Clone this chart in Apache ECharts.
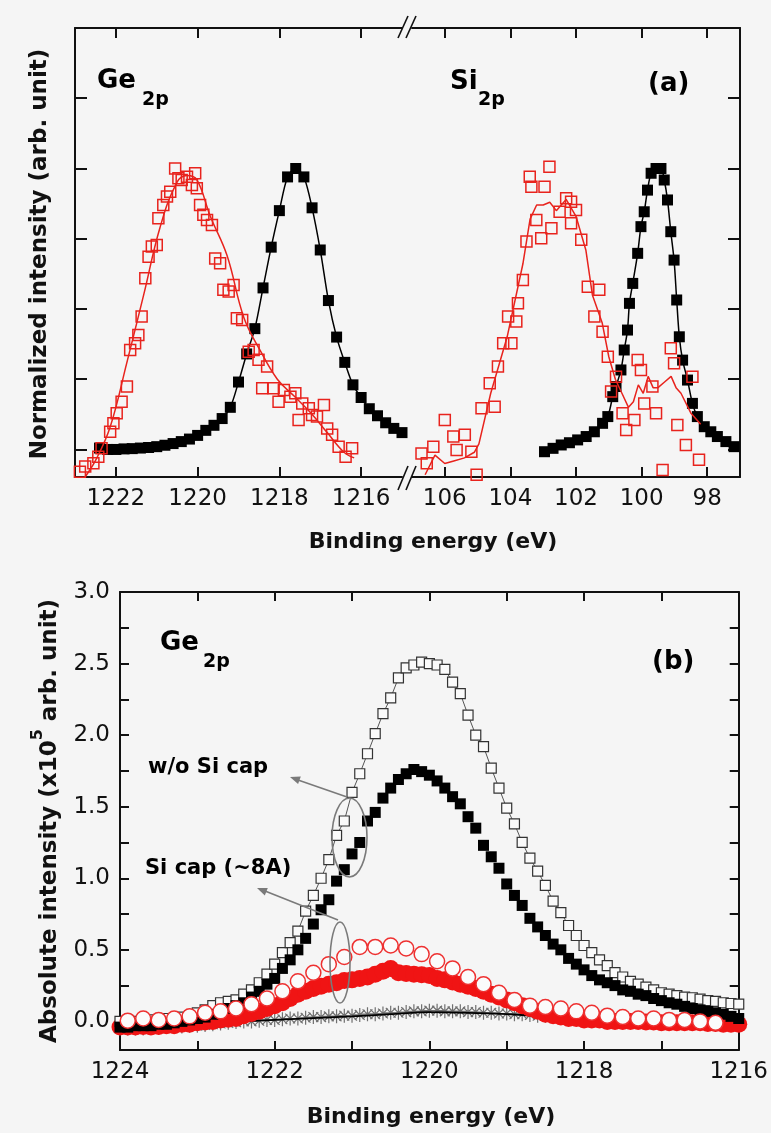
<!DOCTYPE html>
<html><head><meta charset="utf-8">
<script src="https://cdn.jsdelivr.net/npm/echarts@6/dist/echarts.min.js"></script>
<style>html,body{margin:0;padding:0;background:#f5f5f5}#c{width:771px;height:1133px}</style>
</head><body><div id="c"></div><script>
// ---------------- Panel (a) data : normalized intensity ----------------
// Ge 2p, black filled squares (0.2 eV steps from 1222.4 down to 1215.0)
const geBlackStart = 1222.4, geBlackStep = 0.2;
const geBlackV = [0.005,0.0,0.0,0.002,0.003,0.005,0.007,0.01,0.015,0.021,0.028,0.037,0.05,0.068,0.086,0.11,0.15,0.24,0.34,0.43,0.575,0.72,0.85,0.97,1.0,0.97,0.86,0.71,0.53,0.40,0.31,0.23,0.185,0.145,0.12,0.095,0.075,0.06];
// Ge 2p, red open squares
const geRedE = [1222.88,1222.75,1222.55,1222.43,1222.35,1222.14,1222.06,1221.98,1221.86,1221.73,1221.65,1221.53,1221.45,1221.37,1221.28,1221.20,1221.12,1221.00,1220.96,1220.84,1220.75,1220.67,1220.55,1220.47,1220.39,1220.26,1220.14,1220.06,1220.02,1219.94,1219.86,1219.77,1219.65,1219.57,1219.45,1219.37,1219.24,1219.12,1219.04,1218.91,1218.75,1218.63,1218.51,1218.42,1218.30,1218.14,1218.02,1217.89,1217.73,1217.61,1217.53,1217.44,1217.28,1217.20,1217.08,1216.91,1216.83,1216.71,1216.55,1216.38,1216.22];
const geRedV = [-0.079,-0.061,-0.049,-0.026,0.004,0.063,0.093,0.129,0.170,0.224,0.354,0.378,0.407,0.473,0.609,0.686,0.722,0.728,0.823,0.870,0.900,0.917,1.0,0.965,0.959,0.971,0.941,0.983,0.930,0.870,0.835,0.817,0.799,0.680,0.663,0.568,0.562,0.585,0.467,0.461,0.348,0.354,0.319,0.218,0.295,0.218,0.170,0.212,0.188,0.200,0.105,0.164,0.147,0.123,0.117,0.158,0.075,0.052,0.010,-0.026,0.004];
// Ge 2p, red fit line
const geFitE = [1222.95,1222.75,1222.5,1222.14,1221.73,1221.32,1220.92,1220.51,1220.26,1220.02,1219.69,1219.28,1218.87,1218.46,1218.05,1217.64,1217.23,1216.83,1216.42,1216.17];
const geFitV = [-0.14,-0.097,-0.04,0.08,0.31,0.55,0.79,0.95,0.975,0.96,0.83,0.69,0.47,0.35,0.25,0.19,0.13,0.06,-0.01,-0.03];
// Si 2p, black filled squares
const siBlackE = [102.96,102.70,102.45,102.20,101.95,101.69,101.44,101.19,101.03,100.88,100.78,100.63,100.53,100.43,100.37,100.27,100.12,100.02,99.92,99.82,99.71,99.56,99.41,99.31,99.21,99.11,99.01,98.93,98.85,98.75,98.60,98.45,98.30,98.09,97.89,97.69,97.43,97.18];
const siBlackV = [-0.008,0.004,0.016,0.024,0.034,0.046,0.063,0.093,0.117,0.188,0.224,0.283,0.354,0.425,0.52,0.591,0.698,0.793,0.846,0.923,0.983,1.0,1.0,0.959,0.888,0.775,0.674,0.532,0.401,0.318,0.247,0.164,0.117,0.081,0.063,0.046,0.028,0.01];
// Si 2p, red open squares
const siRedE = [106.71,106.55,106.35,106.00,105.74,105.64,105.39,105.19,105.03,104.88,104.63,104.48,104.38,104.22,104.07,103.97,103.82,103.77,103.62,103.51,103.41,103.36,103.21,103.06,102.96,102.81,102.75,102.50,102.30,102.15,102.15,102.00,101.84,101.64,101.44,101.29,101.19,101.03,100.93,100.78,100.58,100.47,100.22,100.12,100.02,99.92,99.67,99.56,99.36,99.11,99.01,98.91,98.65,98.45,98.25];
const siRedV = [-0.014,-0.049,0.01,0.105,0.046,-0.002,0.052,-0.008,-0.09,0.147,0.236,0.152,0.295,0.378,0.473,0.378,0.455,0.52,0.603,0.74,0.971,0.935,0.817,0.752,0.935,1.006,0.787,0.846,0.894,0.882,0.805,0.852,0.746,0.579,0.473,0.568,0.419,0.330,0.206,0.259,0.129,0.069,0.105,0.318,0.283,0.164,0.224,0.129,-0.073,0.36,0.307,0.087,0.016,0.259,-0.037];
// Si 2p, red fit line
const siFitE = [106.6,106.3,106.0,105.7,105.4,105.1,104.96,104.6,104.1,103.62,103.4,103.2,103.0,102.8,102.6,102.45,102.3,102.0,101.7,101.5,101.2,101.0,100.8,100.6,100.4,100.25,100.1,99.95,99.8,99.65,99.5,99.3,99.1,98.95,98.8,98.5,98.2];
const siFitV = [-0.09,-0.02,-0.05,-0.04,-0.03,-0.01,0.02,0.2,0.4,0.66,0.82,0.87,0.87,0.88,0.85,0.87,0.89,0.83,0.71,0.55,0.45,0.33,0.25,0.2,0.15,0.17,0.23,0.2,0.26,0.22,0.22,0.24,0.26,0.22,0.2,0.13,0.09];

// ---------------- Panel (b) data : absolute intensity (x1e5) ----------------
// 0.1 eV steps from 1224.0 down to 1216.0
const bStart = 1224.0, bStep = 0.1;
const bOpenSq = [0.00,0.00,0.00,0.01,0.01,0.01,0.02,0.02,0.03,0.04,
 0.06,0.08,0.11,0.13,0.14,0.15,0.19,0.22,0.27,0.33,
 0.40,0.48,0.55,0.63,0.77,0.88,1.00,1.13,1.30,1.40,
 1.60,1.73,1.87,2.01,2.15,2.26,2.40,2.47,2.49,2.51,
 2.50,2.49,2.46,2.37,2.29,2.14,2.00,1.92,1.77,1.63,
 1.49,1.38,1.25,1.14,1.05,0.95,0.84,0.76,0.67,0.60,
 0.53,0.48,0.43,0.39,0.34,0.31,0.28,0.26,0.24,0.22,
 0.20,0.19,0.18,0.17,0.165,0.155,0.145,0.14,0.13,0.125,
 0.12];
const bFilledSq = [-0.04,-0.04,-0.03,-0.03,-0.03,-0.02,-0.02,-0.01,0.00,0.01,
 0.02,0.03,0.05,0.07,0.09,0.11,0.13,0.17,0.21,0.26,
 0.30,0.37,0.43,0.50,0.58,0.68,0.78,0.85,0.98,1.06,
 1.17,1.25,1.40,1.46,1.56,1.63,1.69,1.73,1.76,1.745,
 1.72,1.68,1.63,1.57,1.52,1.43,1.35,1.23,1.15,1.07,
 0.96,0.88,0.81,0.72,0.66,0.60,0.54,0.50,0.44,0.40,
 0.36,0.32,0.29,0.27,0.25,0.22,0.21,0.19,0.18,0.16,
 0.145,0.13,0.12,0.105,0.09,0.08,0.07,0.06,0.05,0.035,
 0.02];
const bRedFilled = [-0.04,-0.04,-0.04,-0.035,-0.04,-0.035,-0.03,-0.03,-0.02,-0.02,
 -0.01,-0.005,0.00,0.01,0.015,0.02,0.04,0.055,0.07,0.09,
 0.11,0.13,0.16,0.19,0.21,0.23,0.245,0.26,0.27,0.285,
 0.29,0.30,0.31,0.33,0.35,0.37,0.34,0.335,0.33,0.325,
 0.32,0.30,0.29,0.275,0.26,0.245,0.23,0.21,0.19,0.17,
 0.15,0.13,0.11,0.09,0.07,0.05,0.04,0.03,0.02,0.02,
 0.01,0.01,0.01,0.0,0.0,0.0,0.0,0.0,-0.005,-0.005,
 -0.01,-0.01,-0.01,-0.01,-0.01,-0.01,-0.015,-0.015,-0.02,-0.02,
 -0.02];
const bCross = [-0.05,-0.05,-0.05,-0.05,-0.045,-0.045,-0.04,-0.04,-0.035,-0.03,
 -0.03,-0.025,-0.02,-0.015,-0.01,-0.005,0.0,0.0,0.005,0.01,
 0.01,0.015,0.02,0.02,0.025,0.03,0.03,0.035,0.035,0.04,
 0.04,0.045,0.05,0.05,0.055,0.06,0.06,0.065,0.07,0.07,
 0.075,0.075,0.07,0.07,0.07,0.065,0.065,0.06,0.06,0.055,
 0.055,0.05,0.05,0.045,0.04,0.04,0.035,0.03,0.03,0.025,
 0.02,0.02,0.015,0.01,0.01,0.005,0.005,0.0,0.0,0.0,
 -0.005,-0.005,-0.01,-0.01,-0.01,-0.015,-0.015,-0.02,-0.02,-0.02,
 -0.02];
// red open circles, 0.2 eV steps from 1223.9 to 1216.3
const bCircStart = 1223.9, bCircStep = 0.2;
const bRedCirc = [0.005,0.02,0.01,0.02,0.035,0.06,0.07,0.09,0.12,0.16,0.21,0.28,0.34,0.40,0.45,0.52,0.52,0.53,0.51,0.47,0.42,0.37,0.31,0.26,0.20,0.15,0.11,0.10,0.09,0.07,0.06,0.04,0.03,0.02,0.02,0.01,0.01,0.00,-0.01];
// thin black line near zero
const bLineE = [1224,1223,1222.4,1222,1221,1220.5,1220,1219.5,1219,1218.5,1218,1217.5,1217,1216.5,1216];
const bLineV = [-0.06,-0.04,0.0,0.01,0.035,0.05,0.065,0.06,0.05,0.035,0.02,0.005,-0.005,-0.015,-0.02];

// tick / label values
const geTicks = [1216,1218,1220,1222];
const siTicks = [98,100,102,104,106];
const aYTicks = [0,0.25,0.5,0.75,1.0,1.25];
const bXTicks = [1216,1217,1218,1219,1220,1221,1222,1223,1224];
const bXLabels = [1216,1218,1220,1222,1224];
const bYTicks = [0,0.25,0.5,0.75,1.0,1.25,1.5,1.75,2.0,2.25,2.5,2.75,3.0];
const bYLabels = [0,0.5,1.0,1.5,2.0,2.5,3.0];

// ---------------- helpers ----------------
const F = '"DejaVu Sans", sans-serif';
const INK = '#111';
const RED = '#e8231d';
const grid = (xs, ys) => xs.map((x, i) => [x, ys[i]]).filter(p => p[1] !== undefined);
const stepGrid = (start, step, ys) => ys.map((y, i) => [+(start - i * step).toFixed(2), y]);

function xAx(gi, min, max, pos, ticks, labels, tickLen) {
  return {
    type: 'value', gridIndex: gi, min, max, inverse: true, position: pos,
    axisLine: { onZero: false, lineStyle: { color: INK, width: 2 } },
    axisTick: { inside: true, length: tickLen, customValues: ticks, lineStyle: { color: INK, width: 2 } },
    axisLabel: labels ? { show: true, customValues: labels, fontFamily: F, fontSize: 23, color: INK, margin: 11, formatter: v => String(Math.round(v)) } : { show: false },
    splitLine: { show: false }
  };
}
function yAx(gi, min, max, pos, ticks, labels, tickLen, extra) {
  return Object.assign({
    type: 'value', gridIndex: gi, min, max, position: pos,
    axisLine: { show: true, onZero: false, lineStyle: { color: INK, width: 2 } },
    axisTick: { show: true, inside: true, length: tickLen, customValues: ticks, lineStyle: { color: INK, width: 2 } },
    axisLabel: labels ? { show: true, customValues: labels, fontFamily: F, fontSize: 23, color: INK, margin: 10, formatter: v => v.toFixed(1) } : { show: false },
    splitLine: { show: false }
  }, extra || {});
}
function txt(text, x, y, size, opt) {
  return Object.assign({
    type: 'text', x, y, z: 100,
    style: { text, font: 'bold ' + size + 'px ' + F, fill: '#000', verticalAlign: 'middle', align: 'left' }
  }, opt || {});
}
function ctxt(text, x, y, size, rot) {
  return { type: 'text', x, y, z: 100, rotation: rot || 0,
    style: { text, font: 'bold ' + size + 'px ' + F, fill: INK, align: 'center', verticalAlign: 'middle' } };
}
function ln(x1, y1, x2, y2, color, w) {
  return { type: 'line', z: 100, shape: { x1, y1, x2, y2 }, style: { stroke: color, lineWidth: w } };
}
function arrowHead(pts, color) {
  return { type: 'polygon', z: 100, shape: { points: pts }, style: { fill: color } };
}

const GRAY = '#7a7a7a';
const chart = echarts.init(document.getElementById('c'), null, { renderer: 'canvas' });
chart.setOption({
  backgroundColor: '#f5f5f5',
  animation: false,
  grid: [
    { left: 75, top: 28, width: 327, height: 449 },
    { left: 412, top: 28, width: 328, height: 449 },
    { left: 120, top: 592, width: 622, height: 458 }
  ],
  xAxis: [
    xAx(0, 1215, 1223, 'bottom', geTicks, geTicks, 10),
    xAx(0, 1215, 1223, 'top', geTicks, null, 10),
    xAx(1, 97, 107, 'bottom', siTicks, siTicks, 10),
    xAx(1, 97, 107, 'top', siTicks, null, 10),
    xAx(2, 1216, 1224, 'bottom', bXTicks, bXLabels, 9),
    xAx(2, 1216, 1224, 'top', bXTicks, null, 9)
  ],
  yAxis: [
    yAx(0, -0.098, 1.5, 'left', aYTicks, null, 12),
    yAx(1, -0.098, 1.5, 'right', aYTicks, null, 12),
    yAx(2, -0.2, 3.0, 'left', bYTicks, bYLabels, 9, {
      name: '{b|Absolute intensity (x10}{s|5}{b| arb. unit)}',
      nameLocation: 'middle', nameGap: 58,
      nameTextStyle: { rich: {
        b: { fontFamily: F, fontWeight: 'bold', fontSize: 23, color: INK, lineHeight: 32, verticalAlign: 'bottom' },
        s: { fontFamily: F, fontWeight: 'bold', fontSize: 16, color: INK, lineHeight: 32, verticalAlign: 'top' }
      } }
    }),
    yAx(2, -0.2, 3.0, 'right', bYTicks, null, 9)
  ],
  series: [
    // ---- panel (a) Ge
    { type: 'line', xAxisIndex: 0, yAxisIndex: 0, data: stepGrid(geBlackStart, geBlackStep, geBlackV), smooth: 0.3, showSymbol: false, lineStyle: { color: '#000', width: 1.5 }, z: 2 },
    { type: 'scatter', xAxisIndex: 0, yAxisIndex: 0, data: stepGrid(geBlackStart, geBlackStep, geBlackV), symbol: 'rect', symbolSize: 11, itemStyle: { color: '#000', opacity: 1 }, z: 3 },
    { type: 'line', xAxisIndex: 0, yAxisIndex: 0, data: grid(geFitE, geFitV), smooth: 0.4, showSymbol: false, lineStyle: { color: RED, width: 1.5 }, z: 4 },
    { type: 'scatter', xAxisIndex: 0, yAxisIndex: 0, data: grid(geRedE, geRedV), symbol: 'rect', symbolSize: 11, itemStyle: { color: 'rgba(0,0,0,0)', borderColor: RED, borderWidth: 1.5, opacity: 1 }, z: 5 },
    // ---- panel (a) Si
    { type: 'line', xAxisIndex: 2, yAxisIndex: 1, data: grid(siBlackE, siBlackV), smooth: 0.3, showSymbol: false, lineStyle: { color: '#000', width: 1.5 }, z: 2 },
    { type: 'scatter', xAxisIndex: 2, yAxisIndex: 1, data: grid(siBlackE, siBlackV), symbol: 'rect', symbolSize: 11, itemStyle: { color: '#000', opacity: 1 }, z: 3 },
    { type: 'line', xAxisIndex: 2, yAxisIndex: 1, data: grid(siFitE, siFitV), showSymbol: false, lineStyle: { color: RED, width: 1.5 }, z: 4 },
    { type: 'scatter', xAxisIndex: 2, yAxisIndex: 1, data: grid(siRedE, siRedV), symbol: 'rect', symbolSize: 11, itemStyle: { color: 'rgba(0,0,0,0)', borderColor: RED, borderWidth: 1.5, opacity: 1 }, z: 5 },
    // ---- panel (b)
    { type: 'scatter', xAxisIndex: 4, yAxisIndex: 2, data: stepGrid(bStart, bStep, bCross), symbol: 'path://M0,-10L0,10M-10,0L10,0M-7,-7L7,7M-7,7L7,-7', symbolSize: 14, itemStyle: { color: 'rgba(0,0,0,0)', borderColor: '#6f6f6f', borderWidth: 1.2, opacity: 1 }, z: 2 },
    { type: 'line', xAxisIndex: 4, yAxisIndex: 2, data: grid(bLineE, bLineV), smooth: 0.3, showSymbol: false, lineStyle: { color: '#000', width: 1.8 }, z: 3 },
    { type: 'scatter', xAxisIndex: 4, yAxisIndex: 2, data: stepGrid(bStart, bStep, bRedFilled), symbol: 'circle', symbolSize: 17, itemStyle: { color: '#f01414', opacity: 1 }, z: 4 },
    { type: 'line', xAxisIndex: 4, yAxisIndex: 2, data: stepGrid(bStart, bStep, bOpenSq), symbol: 'rect', symbolSize: 10, showSymbol: true, lineStyle: { color: '#555', width: 1 }, itemStyle: { color: '#fafafa', borderColor: '#333', borderWidth: 1.2, opacity: 1 }, z: 5 },
    { type: 'scatter', xAxisIndex: 4, yAxisIndex: 2, data: stepGrid(bStart, bStep, bFilledSq), symbol: 'rect', symbolSize: 11, itemStyle: { color: '#000', opacity: 1 }, z: 6 },
    { type: 'scatter', xAxisIndex: 4, yAxisIndex: 2, data: stepGrid(bCircStart, bCircStep, bRedCirc), symbol: 'circle', symbolSize: 15, itemStyle: { color: '#fbfbfb', borderColor: '#ee3030', borderWidth: 1.5, opacity: 1 }, z: 7 }
  ],
  graphic: [
    // axis titles
    ctxt('Binding energy (eV)', 433, 542, 22),
    ctxt('Normalized intensity (arb. unit)', 40, 254, 23, Math.PI / 2),
    ctxt('Binding energy (eV)', 431, 1117, 22),
    // panel labels
    txt('Ge', 97, 81, 26), txt('2p', 142, 100, 19),
    txt('Si', 450, 82, 26), txt('2p', 478, 100, 19),
    txt('(a)', 648, 84, 26),
    txt('Ge', 160, 643, 26), txt('2p', 203, 662, 19),
    txt('(b)', 652, 662, 26),
    txt('w/o Si cap', 148, 768, 21),
    txt('Si cap (~8A)', 145, 869, 21),
    // break marks
    ln(398, 38, 408, 16, INK, 1.6), ln(406, 38, 416, 16, INK, 1.6),
    ln(398, 490, 408, 466, INK, 1.6), ln(406, 490, 416, 466, INK, 1.6),
    // ellipses + arrows
    { type: 'ellipse', z: 100, shape: { cx: 349.5, cy: 837.5, rx: 17.5, ry: 39.5 }, style: { fill: 'rgba(0,0,0,0)', stroke: GRAY, lineWidth: 1.6 } },
    { type: 'ellipse', z: 100, shape: { cx: 340, cy: 962.5, rx: 10, ry: 40.5 }, style: { fill: 'rgba(0,0,0,0)', stroke: GRAY, lineWidth: 1.6 } },
    ln(347, 797, 298, 780, GRAY, 1.6),
    arrowHead([[290, 777], [300.8, 776.5], [298.1, 784.1]], GRAY),
    ln(338, 920, 265, 891, GRAY, 1.6),
    arrowHead([[257, 888], [267.8, 888.0], [264.8, 895.4]], GRAY)
  ]
});
</script></body></html>
